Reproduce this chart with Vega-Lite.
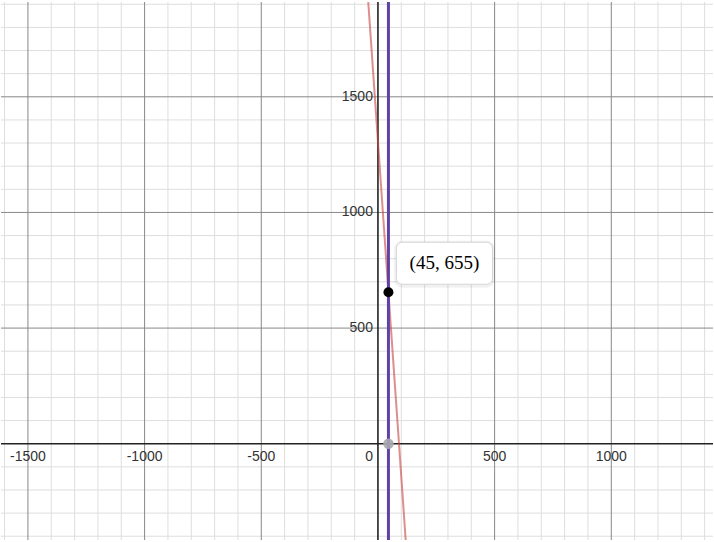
{
  "$schema": "https://vega.github.io/schema/vega-lite/v6.json",
  "width": 714,
  "height": 542,
  "autosize": {"type": "fit", "contains": "padding"},
  "padding": 0,
  "background": "white",
  "config": {"view": {"stroke": null}, "axis": {"grid": false, "labels": false, "ticks": false, "domain": false, "title": null}},
  "datasets": {
    "gxMinor": [{"x": -1600},{"x": -1400},{"x": -1300},{"x": -1200},{"x": -1100},{"x": -900},{"x": -800},{"x": -700},{"x": -600},{"x": -400},{"x": -300},{"x": -200},{"x": -100},{"x": 100},{"x": 200},{"x": 300},{"x": 400},{"x": 600},{"x": 700},{"x": 800},{"x": 900},{"x": 1100},{"x": 1200},{"x": 1300},{"x": 1400}],
    "gyMinor": [{"y": -400},{"y": -300},{"y": -200},{"y": -100},{"y": 100},{"y": 200},{"y": 300},{"y": 400},{"y": 600},{"y": 700},{"y": 800},{"y": 900},{"y": 1100},{"y": 1200},{"y": 1300},{"y": 1400},{"y": 1600},{"y": 1700},{"y": 1800},{"y": 1900}],
    "gxMajor": [{"x": -1500},{"x": -1000},{"x": -500},{"x": 500},{"x": 1000}],
    "gyMajor": [{"y": 500},{"y": 1000},{"y": 1500}],
    "red": [{"x": -60, "y": 2177.5}, {"x": 140, "y": -722.5}],
    "xlabels": [
      {"x": -1500, "y": 0, "t": "-1500"},
      {"x": -1000, "y": 0, "t": "-1000"},
      {"x": -500, "y": 0, "t": "-500"},
      {"x": 500, "y": 0, "t": "500"},
      {"x": 1000, "y": 0, "t": "1000"},
      {"x": 1500, "y": 0, "t": "1500"}
    ],
    "zero": [{"x": 0, "y": 0, "t": "0"}],
    "ylabels": [
      {"x": 0, "y": 500, "t": "500"},
      {"x": 0, "y": 1000, "t": "1000"},
      {"x": 0, "y": 1500, "t": "1500"}
    ],
    "pt": [{"x": 45, "y": 655, "t": "(45, 655)"}],
    "gpt": [{"x": 45, "y": 0}]
  },
  "layer": [
    {
      "data": {"name": "gxMinor"},
      "mark": {"type": "rule", "color": "#dedede", "strokeWidth": 1},
      "encoding": {
        "x": {"field": "x", "type": "quantitative", "scale": {"domain": [-1615.4, 1435.9], "nice": false, "zero": false}, "axis": null}
      }
    },
    {
      "data": {"name": "gyMinor"},
      "mark": {"type": "rule", "color": "#dedede", "strokeWidth": 1},
      "encoding": {
        "y": {"field": "y", "type": "quantitative", "scale": {"domain": [-416.3, 1909.9], "nice": false, "zero": false}, "axis": null}
      }
    },
    {
      "data": {"name": "gxMajor"},
      "mark": {"type": "rule", "color": "#888888", "strokeWidth": 1},
      "encoding": {"x": {"field": "x", "type": "quantitative", "axis": null}}
    },
    {
      "data": {"name": "gyMajor"},
      "mark": {"type": "rule", "color": "#888888", "strokeWidth": 1},
      "encoding": {"y": {"field": "y", "type": "quantitative", "axis": null}}
    },
    {
      "data": {"name": "zero"},
      "mark": {"type": "rule", "color": "#222222", "strokeWidth": 1.6},
      "encoding": {"x": {"field": "x", "type": "quantitative", "axis": null}}
    },
    {
      "data": {"name": "zero"},
      "mark": {"type": "rule", "color": "#222222", "strokeWidth": 1.6},
      "encoding": {"y": {"field": "y", "type": "quantitative", "axis": null}}
    },
    {
      "data": {"name": "xlabels"},
      "mark": {"type": "text", "clip": true, "font": "Liberation Sans", "fontSize": 14, "color": "#333333", "align": "center", "baseline": "middle", "dy": 13},
      "encoding": {
        "x": {"field": "x", "type": "quantitative", "axis": null},
        "y": {"field": "y", "type": "quantitative", "axis": null},
        "text": {"field": "t"}
      }
    },
    {
      "data": {"name": "zero"},
      "mark": {"type": "text", "font": "Liberation Sans", "fontSize": 14, "color": "#333333", "align": "right", "baseline": "middle", "dy": 13, "dx": -5},
      "encoding": {
        "x": {"field": "x", "type": "quantitative", "axis": null},
        "y": {"field": "y", "type": "quantitative", "axis": null},
        "text": {"field": "t"}
      }
    },
    {
      "data": {"name": "ylabels"},
      "mark": {"type": "text", "font": "Liberation Sans", "fontSize": 14, "color": "#333333", "align": "right", "baseline": "middle", "dx": -5},
      "encoding": {
        "x": {"field": "x", "type": "quantitative", "axis": null},
        "y": {"field": "y", "type": "quantitative", "axis": null},
        "text": {"field": "t"}
      }
    },
    {
      "data": {"name": "red"},
      "mark": {"type": "line", "clip": true, "color": "#c74440", "opacity": 0.6, "strokeWidth": 2},
      "encoding": {
        "x": {"field": "x", "type": "quantitative", "axis": null},
        "y": {"field": "y", "type": "quantitative", "axis": null}
      }
    },
    {
      "data": {"name": "pt"},
      "mark": {"type": "rule", "color": "#6042a6", "strokeWidth": 3},
      "encoding": {"x": {"field": "x", "type": "quantitative", "axis": null}}
    },
    {
      "data": {"name": "gpt"},
      "mark": {"type": "point", "filled": true, "size": 110, "color": "#a9a9b0", "opacity": 0.9},
      "encoding": {
        "x": {"field": "x", "type": "quantitative", "axis": null},
        "y": {"field": "y", "type": "quantitative", "axis": null}
      }
    },
    {
      "data": {"name": "pt"},
      "mark": {"type": "point", "filled": true, "size": 100, "color": "#000000", "opacity": 1},
      "encoding": {
        "x": {"field": "x", "type": "quantitative", "axis": null},
        "y": {"field": "y", "type": "quantitative", "axis": null}
      }
    },
    {
      "data": {"name": "pt"},
      "mark": {"type": "point", "size": 4, "filled": false, "fill": null, "stroke": "#000000", "strokeOpacity": 0.08, "strokeWidth": 5, "yOffset": 1,
        "shape": "M14,-50 H98 A6,6 0 0 1 104,-44 V-14 A6,6 0 0 1 98,-8 H14 A6,6 0 0 1 8,-14 V-44 A6,6 0 0 1 14,-50 Z"},
      "encoding": {
        "x": {"field": "x", "type": "quantitative", "axis": null},
        "y": {"field": "y", "type": "quantitative", "axis": null}
      }
    },
    {
      "data": {"name": "pt"},
      "mark": {"type": "point", "size": 4, "filled": true, "fill": "#ffffff", "fillOpacity": 1, "opacity": 1, "stroke": "#d6d6d6", "strokeWidth": 1,
        "shape": "M14,-50 H98 A6,6 0 0 1 104,-44 V-14 A6,6 0 0 1 98,-8 H14 A6,6 0 0 1 8,-14 V-44 A6,6 0 0 1 14,-50 Z"},
      "encoding": {
        "x": {"field": "x", "type": "quantitative", "axis": null},
        "y": {"field": "y", "type": "quantitative", "axis": null}
      }
    },
    {
      "data": {"name": "pt"},
      "mark": {"type": "text", "font": "Liberation Serif", "fontSize": 19, "color": "#000000", "align": "center", "baseline": "middle", "dx": 56, "dy": -29},
      "encoding": {
        "x": {"field": "x", "type": "quantitative", "axis": null},
        "y": {"field": "y", "type": "quantitative", "axis": null},
        "text": {"field": "t"}
      }
    }
  ]
}
